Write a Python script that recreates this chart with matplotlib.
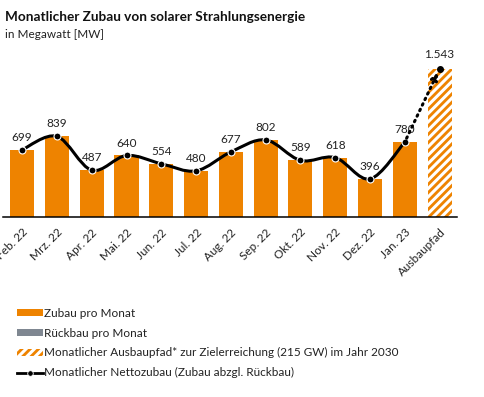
import numpy as np
import matplotlib.pyplot as plt
from matplotlib.patches import Patch, PathPatch
from matplotlib.lines import Line2D
from matplotlib.path import Path

plt.rcParams['font.family'] = ['Lato', 'DejaVu Sans']
plt.rcParams['hatch.linewidth'] = 2.2

months = ['Feb. 22', 'Mrz. 22', 'Apr. 22', 'Mai. 22', 'Jun. 22', 'Jul. 22',
          'Aug. 22', 'Sep. 22', 'Okt. 22', 'Nov. 22', 'Dez. 22', 'Jan. 23']
zubau = [699, 839, 487, 640, 554, 480, 677, 802, 589, 618, 396, 780]
ausbaupfad_label = 'Ausbaupfad'
ausbaupfad = 1543

ORANGE = '#EE8300'
GREY = '#7F8791'


def smooth_path(x, y):
    '''catmull-rom style smoothing, drawn as bezier curves'''
    pts = np.column_stack([x, y]).astype(float)
    verts = [pts[0]]
    codes = [Path.MOVETO]
    n = len(pts)
    for i in range(n - 1):
        p0 = pts[i - 1] if i > 0 else pts[i]
        p1 = pts[i]
        p2 = pts[i + 1]
        p3 = pts[i + 2] if i + 2 < n else pts[i + 1]
        c1 = p1 + (p2 - p0) / 6
        c2 = p2 - (p3 - p1) / 6
        verts += [c1, c2, p2]
        codes += [Path.CURVE4] * 3
    return Path(verts, codes)


def main():
    fig = plt.figure(figsize=(4.85, 3.97), dpi=100)
    ax = fig.add_axes([3 / 485, 1 - 217 / 397, 454 / 485, 173 / 397])

    x = np.arange(len(months))
    ax.bar(x, zubau, width=0.69, color=ORANGE, zorder=2)
    xa = len(months)
    ax.bar(xa, ausbaupfad, width=0.69, color=ORANGE, edgecolor='white',
           hatch='////', linewidth=0, zorder=2)

    # smoothed net line
    ax.add_patch(PathPatch(smooth_path(x, zubau), facecolor='none',
                           edgecolor='black', lw=2.2, zorder=3))
    ax.plot(x, zubau, 'o', color='black', mec='white', mew=0.8, ms=5, zorder=4)

    # dotted path to target
    ax.annotate('', xy=(xa, ausbaupfad), xytext=(x[-1], zubau[-1]),
                arrowprops=dict(arrowstyle='-|>,head_length=0.5,head_width=0.25',
                                linestyle=(0, (0.5, 1.5)),
                                lw=2.2, color='black', mutation_scale=8,
                                shrinkA=3, shrinkB=3), zorder=4)
    ax.plot(xa, ausbaupfad, 'o', color='black', ms=4, zorder=4)

    for xi, v in zip(x, zubau):
        ax.annotate(str(v), (xi, v), xytext=(0, 5), textcoords='offset points',
                    ha='center', va='bottom', fontsize=8.5, color='#222222')
    ax.annotate(f'{ausbaupfad:,}'.replace(',', '.'), (xa, ausbaupfad),
                xytext=(0, 6), textcoords='offset points',
                ha='center', va='bottom', fontsize=8.5, color='#222222')

    ax.set_xlim(-0.55, 12.5)
    ax.set_ylim(0, 1800)
    ax.set_yticks([])
    for s in ['top', 'right', 'left']:
        ax.spines[s].set_visible(False)
    ax.spines['bottom'].set_linewidth(1.1)
    ax.set_xticks(list(x) + [xa])
    ax.set_xticklabels(months + [ausbaupfad_label], rotation=45, ha='right',
                       rotation_mode='anchor', fontsize=8.5, color='#222222')
    ax.tick_params(axis='x', length=0, pad=7)

    fig.text(5 / 485, 1 - 17 / 397, 'Monatlicher Zubau von solarer Strahlungsenergie',
             fontsize=9.8, fontweight='bold', va='center', color='#111111')
    fig.text(5 / 485, 1 - 35 / 397, 'in Megawatt [MW]', fontsize=8.5,
             va='center', color='#222222')

    handles = [
        Patch(facecolor=ORANGE, edgecolor='none'),
        Patch(facecolor=GREY, edgecolor='none'),
        Patch(facecolor=ORANGE, edgecolor='white', hatch='////', linewidth=0),
        Line2D([0], [0], color='black', lw=2, marker='o', ms=4,
               mfc='black', mec='white', mew=0.6),
    ]
    labels = ['Zubau pro Monat', 'Rückbau pro Monat',
              'Monatlicher Ausbaupfad* zur Zielerreichung (215 GW) im Jahr 2030',
              'Monatlicher Nettozubau (Zubau abzgl. Rückbau)']
    fig.legend(handles, labels, loc='upper left', bbox_to_anchor=(12 / 485, 1 - 303 / 397),
               frameon=False, fontsize=8.5, handlelength=2.2, handleheight=0.55,
               handletextpad=0.15, labelspacing=0.75, borderaxespad=0,
               labelcolor='#222222')

    fig.savefig('out.png', dpi=100)


if __name__ == '__main__':
    main()
